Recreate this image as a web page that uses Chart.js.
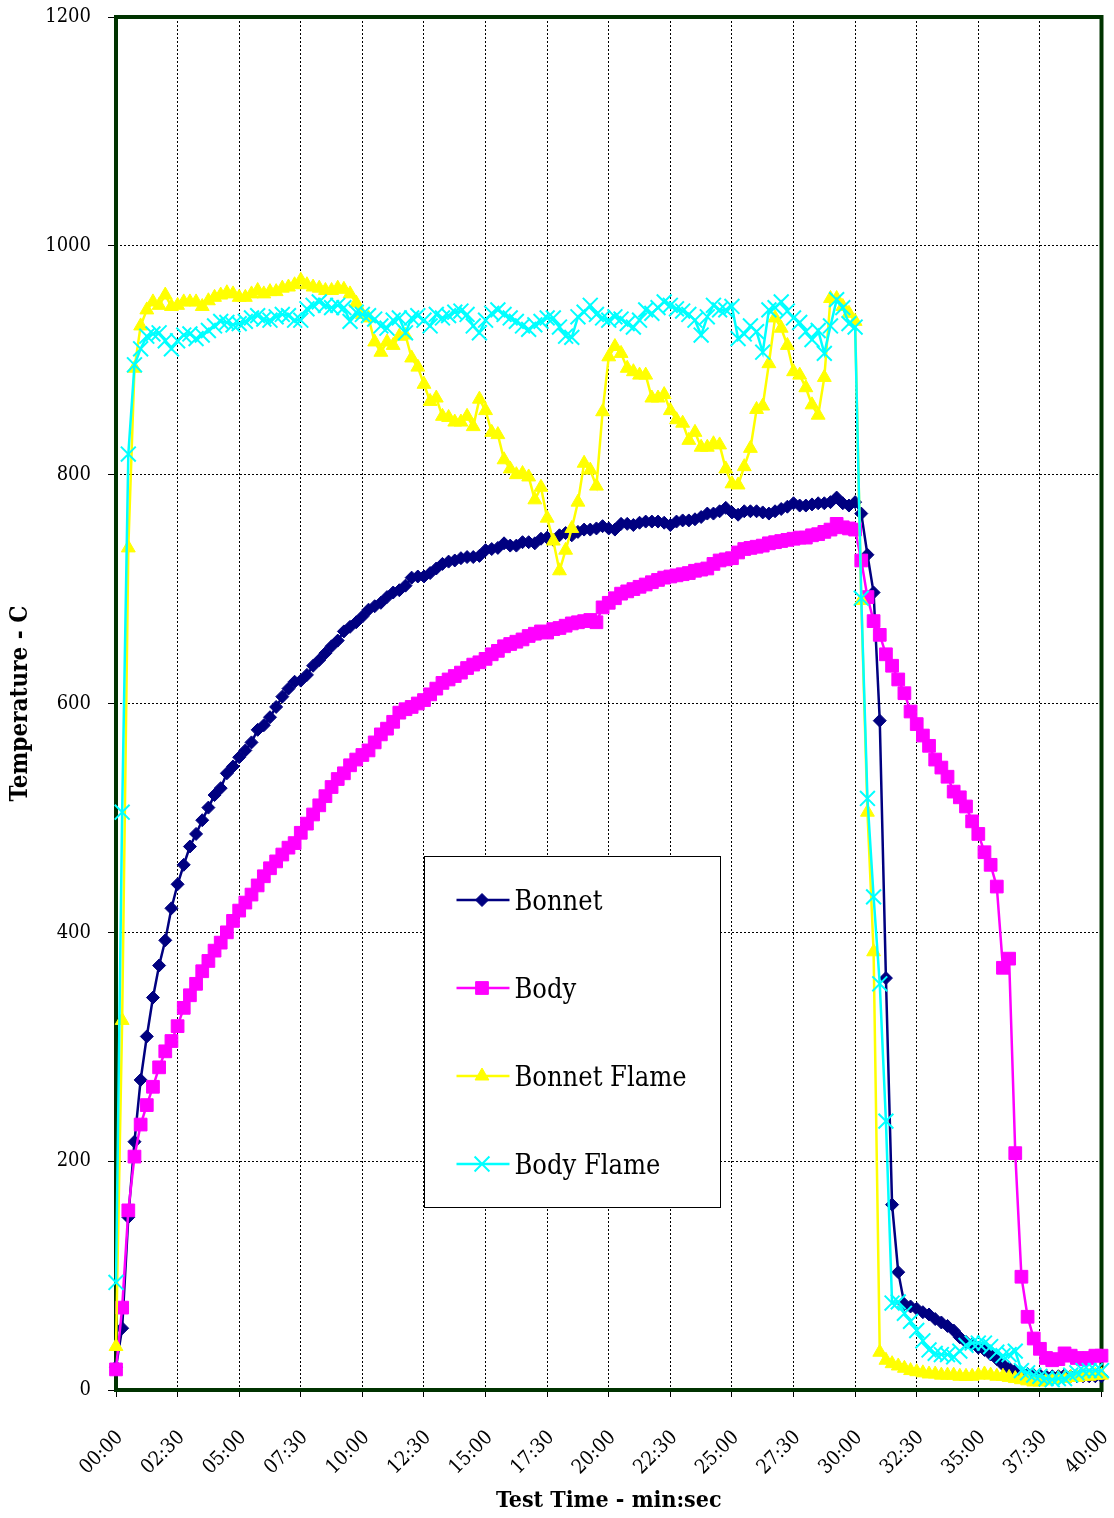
<!DOCTYPE html>
<html>
<head>
<meta charset="utf-8">
<script src="https://cdn.jsdelivr.net/npm/chart.js@4.4.1/dist/chart.umd.min.js"></script>
<style>
  html, body { margin: 0; padding: 0; background: #fff; }
  canvas { display: block; }
</style>
</head>
<body>
<canvas id="chart" width="1114" height="1518"></canvas>
<script>
// --- Data (one reading every 15 s, 00:00 to 40:00) ---
const sampleStepSec = 15;
const tickStepSec = 150;
const tickLabels = ['00:00', '02:30', '05:00', '07:30', '10:00', '12:30', '15:00', '17:30', '20:00',
    '22:30', '25:00', '27:30', '30:00', '32:30', '35:00', '37:30', '40:00'];

const bonnet = [
    20, 54, 151, 217, 271, 309, 343, 371, 393, 421,
    442, 459, 475, 486, 498, 509, 520, 526, 539, 545,
    553, 559, 566, 577, 581, 588, 597, 606, 613, 619,
    620, 625, 633, 638, 644, 650, 655, 663, 667, 671,
    676, 682, 685, 688, 693, 697, 699, 703, 710, 711,
    711, 714, 718, 722, 724, 725, 727, 728, 728, 729,
    734, 735, 736, 740, 738, 738, 741, 741, 740, 744,
    745, 743, 747, 749, 747, 750, 752, 752, 753, 755,
    753, 752, 757, 757, 756, 758, 759, 759, 759, 758,
    756, 759, 760, 760, 761, 763, 766, 766, 768, 771,
    767, 765, 768, 768, 768, 767, 766, 768, 770, 772,
    775, 773, 773, 774, 775, 775, 776, 780, 775, 773,
    776, 766, 730, 697, 585, 360, 162, 103, 75, 73,
    71, 68, 66, 62, 59, 56, 52, 46, 42, 40,
    37, 35, 31, 27, 22, 19, 17, 15, 14, 13,
    13, 12, 12, 12, 13, 12, 12, 12, 12, 12, 12
];

const body = [
    18, 72, 157, 204, 232, 249, 265, 282, 296, 305,
    318, 334, 345, 355, 366, 375, 384, 391, 400, 410,
    419, 426, 433, 441, 449, 456, 462, 468, 474, 478,
    487, 495, 503, 511, 519, 527, 534, 539, 546, 551,
    555, 559, 566, 573, 578, 584, 592, 595, 597, 600,
    603, 608, 613, 618, 621, 624, 627, 631, 634, 636,
    639, 643, 646, 650, 652, 654, 656, 659, 661, 663,
    662, 665, 666, 668, 670, 671, 672, 673, 671, 684,
    688, 692, 696, 698, 700, 702, 704, 706, 708, 710,
    711, 712, 713, 714, 716, 717, 718, 722, 725, 726,
    727, 732, 735, 736, 737, 738, 740, 741, 742, 743,
    744, 745, 745, 747, 748, 750, 752, 757, 754, 753,
    752, 725, 693, 672, 660, 643, 633, 621, 609, 593,
    582, 572, 563, 551, 544, 536, 523, 518, 510, 497,
    486, 470, 459, 440, 369, 377, 207, 99, 64, 45,
    36, 28, 26, 27, 32, 30, 28, 27, 28, 30, 30
];

const bonnetFlame = [
    38, 323, 736, 893, 930, 944, 951, 948, 957, 947,
    948, 951, 951, 951, 947, 952, 955, 957, 959, 958,
    955, 955, 958, 961, 958, 960, 960, 963, 964, 966,
    970, 966, 964, 963, 961, 961, 963, 962, 958, 950,
    940, 937, 916, 907, 916, 913, 921, 922, 902, 894,
    879, 864, 867, 851, 850, 846, 846, 851, 842, 866,
    856, 837, 835, 813, 805, 800, 801, 798, 778, 789,
    762, 742, 716, 734, 753, 776, 810, 804, 790, 855,
    903, 912, 906, 893, 890, 887, 887, 867, 867, 870,
    856, 848, 845, 830, 837, 824, 824, 827, 826, 805,
    792, 791, 807, 823, 857, 860, 897, 937, 928, 913,
    890, 887, 876, 861, 852, 885, 954, 954, 947, 941,
    934, 690, 505, 383, 33, 26, 23, 21, 19, 17,
    16, 15, 14, 14, 13, 13, 13, 12, 12, 12,
    13, 14, 13, 12, 12, 11, 10, 9, 8, 7,
    7, 8, 9, 10, 10, 11, 11, 12, 12, 13, 13
];

const bodyFlame = [
    94, 505, 818, 896, 910, 921, 923, 924, 917, 910,
    917, 922, 923, 919, 922, 926, 930, 934, 933, 931,
    932, 934, 937, 939, 936, 935, 938, 940, 939, 935,
    935, 945, 948, 951, 948, 946, 948, 946, 934, 942,
    940, 939, 936, 930, 928, 935, 937, 924, 937, 939,
    935, 930, 940, 937, 939, 942, 943, 940, 930, 924,
    935, 941, 944, 940, 937, 934, 930, 927, 931, 934,
    937, 937, 929, 921, 920, 938, 942, 948, 940, 937,
    935, 938, 936, 932, 929, 935, 944, 941, 946, 951,
    948, 945, 943, 940, 935, 922, 938, 948, 944, 944,
    947, 919, 923, 930, 925, 907, 944, 946, 951, 943,
    937, 933, 925, 918, 926, 906, 930, 953, 946, 932,
    929, 692, 517, 431, 355, 235, 76, 77, 67, 60,
    52, 43, 35, 32, 31, 31, 29, 34, 39, 41,
    41, 41, 38, 33, 30, 31, 34, 17, 15, 13,
    12, 10, 9, 10, 10, 13, 15, 17, 17, 17, 17
];

const toPoints = values => values.map((v, i) => ({ x: i * sampleStepSec, y: v }));

const serif = "'DejaVu Serif Condensed', 'DejaVu Serif', serif";

// keep the plot box where it is in the original: scale paddings would push it in
function fixScale(scale, size) {
    if (scale.isHorizontal()) scale.height = size; else scale.width = size;
    scale.paddingLeft = scale.paddingRight = scale.paddingTop = scale.paddingBottom = 0;
}

// --- Plugins ---
const plotFrame = {
    id: 'plotFrame',
    beforeDatasetsDraw(chart) {
        const { ctx, chartArea: a } = chart;
        ctx.save();
        ctx.strokeStyle = '#003300';
        ctx.lineWidth = 4;
        ctx.strokeRect(a.left, a.top, a.right - a.left, a.bottom - a.top);
        ctx.restore();
    }
};

const legendBox = {
    id: 'legendBox',
    afterDatasetsDraw(chart) {
        const { ctx } = chart;
        const box = { x: 424.5, y: 856.5, w: 296, h: 351 };
        ctx.save();
        ctx.fillStyle = '#fff';
        ctx.fillRect(box.x, box.y, box.w, box.h);
        ctx.strokeStyle = '#000';
        ctx.lineWidth = 1;
        ctx.strokeRect(box.x, box.y, box.w, box.h);
        chart.data.datasets.forEach((ds, i) => {
            const y = box.y + 43.5 + i * 88;
            ctx.strokeStyle = ds.borderColor;
            ctx.lineWidth = ds.borderWidth;
            ctx.beginPath();
            ctx.moveTo(box.x + 32, y);
            ctx.lineTo(box.x + 85, y);
            ctx.stroke();
            ctx.fillStyle = ds.pointBackgroundColor;
            ctx.strokeStyle = ds.pointBorderColor;
            ctx.lineWidth = ds.pointBorderWidth;
            Chart.helpers.drawPoint(ctx, {
                pointStyle: ds.pointStyle, radius: ds.pointRadius, borderWidth: ds.pointBorderWidth, rotation: 0
            }, box.x + 57.5, y);
            ctx.fillStyle = '#000';
            ctx.font = `27px ${serif}`;
            ctx.textAlign = 'left';
            ctx.textBaseline = 'alphabetic';
            ctx.fillText(ds.label, box.x + 90, y + 9.5);
        });
        ctx.restore();
    }
};

// --- Chart ---
Chart.defaults.font.family = serif;
Chart.defaults.color = '#000';

new Chart(document.getElementById('chart'), {
    type: 'line',
    data: {
        datasets: [
            { label: 'Bonnet', data: toPoints(bonnet), borderColor: '#000080', pointBackgroundColor: '#000080',
              pointBorderColor: '#000080', pointStyle: 'rectRot', pointRadius: 6.5, pointBorderWidth: 1,
              borderWidth: 2.5, order: 4, clip: false },
            { label: 'Body', data: toPoints(body), borderColor: '#FF00FF', pointBackgroundColor: '#FF00FF',
              pointBorderColor: '#FF00FF', pointStyle: 'rect', pointRadius: 9, pointBorderWidth: 1,
              borderWidth: 2.5, order: 3, clip: false },
            { label: 'Bonnet Flame', data: toPoints(bonnetFlame), borderColor: '#FFFF00', pointBackgroundColor: '#FFFF00',
              pointBorderColor: '#FFFF00', pointStyle: 'triangle', pointRadius: 8, pointBorderWidth: 1,
              borderWidth: 2.5, order: 2, clip: false },
            { label: 'Body Flame', data: toPoints(bodyFlame), borderColor: '#00FFFF', pointBackgroundColor: '#00FFFF',
              pointBorderColor: '#00FFFF', pointStyle: 'crossRot', pointRadius: 10.5, pointBorderWidth: 2,
              borderWidth: 2.5, order: 1, clip: false }
        ]
    },
    options: {
        responsive: false,
        animation: false,
        devicePixelRatio: 1,
        layout: { padding: { left: 0, top: 17, right: 2, bottom: 0 } },
        plugins: { legend: { display: false }, tooltip: { enabled: false } },
        elements: { line: { tension: 0 } },
        scales: {
            x: {
                type: 'linear', min: 0, max: 2400,
                ticks: {
                    stepSize: tickStepSec, autoSkip: false, maxRotation: 45, minRotation: 45,
                    padding: 29, labelOffset: 4, font: { size: 20 },
                    callback: value => tickLabels[Math.round(value / tickStepSec)]
                },
                grid: { color: '#000', lineWidth: 1, tickLength: 7, tickColor: '#000' },
                border: { display: false, dash: [2, 2] },
                title: { display: true, text: 'Test Time - min:sec', font: { size: 23, weight: 'bold' }, padding: { top: 0, bottom: 3 } },
                afterFit: scale => fixScale(scale, 128)
            },
            y: {
                min: 0, max: 1200,
                ticks: { stepSize: 200, padding: 17, font: { size: 20 }, callback: value => String(value) },
                grid: { color: '#000', lineWidth: 1, tickLength: 8, tickColor: '#000' },
                border: { display: false, dash: [2, 2] },
                title: { display: true, text: 'Temperature - C', font: { size: 24, weight: 'bold' }, padding: { top: 6, bottom: 0 } },
                afterFit: scale => fixScale(scale, 116)
            }
        }
    },
    plugins: [plotFrame, legendBox]
});
</script>
</body>
</html>
